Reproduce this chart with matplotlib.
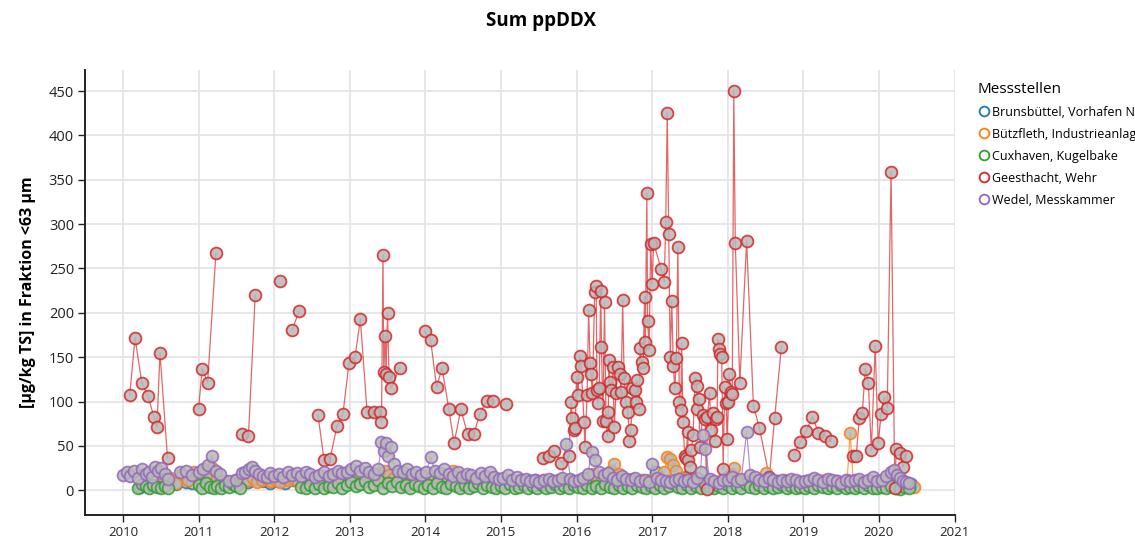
import numpy as np
import matplotlib
matplotlib.use("Agg")
import matplotlib.pyplot as plt
from matplotlib.lines import Line2D

plt.rcParams["font.family"] = ["Open Sans", "DejaVu Sans"]

# Geesthacht, Wehr (None = gap in the sampling, breaks the line)
geest_t = [2010.09, 2010.16, 2010.25, 2010.33, 2010.41, 2010.45, 2010.49, 2010.59, None,
           2011.00, 2011.05, 2011.12, 2011.23, None,
           2011.57, 2011.66, 2011.75, None,
           2012.08, None,
           2012.24, 2012.33, None,
           2012.58, 2012.66, 2012.74, 2012.83, 2012.91, 2012.99, 2013.07, 2013.14, 2013.23, 2013.32,
           2013.40, 2013.42, 2013.44, 2013.45, 2013.47, 2013.48, 2013.50, 2013.52, 2013.55, 2013.66, None,
           2013.99, 2014.07, 2014.15, 2014.22, 2014.31, 2014.38, 2014.47, 2014.56, 2014.64, 2014.72,
           2014.81, 2014.89, None,
           2015.07, None,
           2015.55, 2015.63, 2015.70, 2015.80, 2015.90, 2015.93, 2015.94, 2015.96, 2015.98, 2016.00,
           2016.02, 2016.04, 2016.06, 2016.10, 2016.11, 2016.14, 2016.16, 2016.18, 2016.19, 2016.21,
           2016.24, 2016.26, 2016.27, 2016.28, 2016.30, 2016.32, 2016.33, 2016.35, 2016.37, 2016.39,
           2016.41, 2016.42, 2016.43, 2016.44, 2016.46, 2016.48, 2016.50, 2016.52, 2016.55, 2016.57,
           2016.59, 2016.61, 2016.63, 2016.65, 2016.68, 2016.70, 2016.72, 2016.74, 2016.77, 2016.79,
           2016.80, 2016.83, 2016.84, 2016.86, 2016.88, 2016.90, 2016.91, 2016.93, 2016.94, 2016.96,
           2016.98, 2017.00, 2017.02, 2017.12, 2017.16, 2017.18, 2017.20, 2017.22, 2017.24, 2017.26,
           2017.28, 2017.30, 2017.32, 2017.34, 2017.36, 2017.38, 2017.39, 2017.41, 2017.43, 2017.45,
           2017.47, 2017.48, 2017.50, 2017.52, 2017.54, 2017.57, 2017.59, 2017.60, 2017.62, 2017.63,
           2017.67, 2017.70, 2017.72, 2017.73, 2017.76, 2017.78, 2017.81, 2017.83, 2017.84, 2017.86,
           2017.87, 2017.89, 2017.90, 2017.92, 2017.94, 2017.96, 2017.98, 2017.99, 2018.01, 2018.02,
           2018.04, 2018.06, 2018.08, 2018.10, 2018.16, 2018.25, 2018.34, 2018.42, 2018.55, 2018.62,
           2018.71, None,
           2018.87, 2018.96, 2019.04, 2019.12, 2019.20, 2019.29, 2019.37, None,
           2019.66, 2019.70, 2019.74, 2019.78, 2019.82, 2019.86, 2019.90, 2019.95, 2019.99, 2020.03,
           2020.07, 2020.11, 2020.16, 2020.21, 2020.23, 2020.28, 2020.32, 2020.36]
geest_v = [107, 172, 121, 106, 83, 71, 155, 36, None,
           92, 137, 121, 267, None,
           63, 61, 220, None,
           236, None,
           181, 202, None,
           85, 34, 35, 72, 86, 143, 150, 193, 88, 88,
           88, 77, 265, 133, 174, 131, 200, 128, 115, 138, None,
           179, 169, 116, 138, 92, 53, 91, 63, 63, 86,
           101, 101, None,
           97, None,
           36, 38, 44, 31, 38, 100, 81, 68, 70, 128,
           107, 151, 140, 77, 49, 107, 203, 143, 131, 110,
           224, 230, 113, 98, 115, 225, 162, 78, 212, 78,
           61, 88, 147, 122, 113, 139, 71, 110, 139, 131,
           111, 214, 126, 100, 88, 56, 68, 115, 113, 100,
           124, 92, 160, 144, 138, 218, 167, 335, 191, 158,
           278, 233, 279, 249, 235, 302, 425, 289, 150, 213,
           140, 115, 149, 274, 100, 90, 166, 77, 38, 36,
           66, 34, 26, 45, 62, 127, 118, 92, 103, 49,
           85, 80, 1, 82, 110, 68, 87, 56, 80, 83,
           170, 159, 154, 150, 24, 116, 98, 58, 100, 131,
           111, 109, 450, 279, 121, 281, 95, 70, 15, 81,
           162, None,
           40, 54, 67, 83, 65, 61, 55, None,
           39, 39, 81, 87, 137, 121, 45, 163, 53, 86,
           105, 93, 359, 2, 46, 42, 26, 38]

# Wedel, Messkammer
wedel_t = [2010.00, 2010.05, 2010.10, 2010.15, 2010.20, 2010.25, 2010.30, 2010.34, 2010.38, 2010.42,
           2010.46, 2010.50, 2010.55, 2010.60, 2010.75, 2010.83, 2010.92,
           2011.00, 2011.06, 2011.12, 2011.18, 2011.23, 2011.29, 2011.40, 2011.50, 2011.58, 2011.62,
           2011.67, 2011.71, 2011.75, 2011.80, 2011.85, 2011.90, 2011.95,
           2012.00, 2012.06, 2012.12, 2012.18, 2012.24, 2012.30, 2012.36, 2012.42, 2012.48, 2012.54,
           2012.60, 2012.66, 2012.72, 2012.78, 2012.84, 2012.90, 2012.96,
           2013.02, 2013.08, 2013.14, 2013.20, 2013.26, 2013.32, 2013.38, 2013.42, 2013.45, 2013.48,
           2013.51, 2013.54, 2013.58, 2013.64, 2013.70, 2013.76, 2013.82, 2013.88, 2013.94,
           2014.01, 2014.07, 2014.13, 2014.19, 2014.25, 2014.31, 2014.37, 2014.43, 2014.49, 2014.55,
           2014.61, 2014.67, 2014.73, 2014.79, 2014.85, 2014.91, 2014.97,
           2015.03, 2015.09, 2015.15, 2015.21, 2015.27, 2015.33, 2015.39, 2015.45, 2015.51, 2015.57,
           2015.63, 2015.69, 2015.75, 2015.81, 2015.86, 2015.92, 2015.97,
           2016.03, 2016.09, 2016.15, 2016.20, 2016.24, 2016.30, 2016.36, 2016.42, 2016.48, 2016.54,
           2016.60, 2016.66, 2016.72, 2016.78, 2016.84, 2016.90, 2016.96,
           2017.00, 2017.06, 2017.12, 2017.18, 2017.24, 2017.30, 2017.36, 2017.42, 2017.48, 2017.54,
           2017.60, 2017.64, 2017.67, 2017.70, 2017.76, 2017.82, 2017.88, 2017.94,
           2018.00, 2018.06, 2018.12, 2018.18, 2018.25, 2018.30, 2018.36, 2018.42, 2018.48, 2018.54,
           2018.60, 2018.66, 2018.72, 2018.78, 2018.84, 2018.90, 2018.96,
           2019.02, 2019.08, 2019.14, 2019.20, 2019.26, 2019.32, 2019.38, 2019.44, 2019.50, 2019.56,
           2019.62, 2019.68, 2019.74, 2019.80, 2019.86, 2019.92, 2019.98,
           2020.04, 2020.10, 2020.16, 2020.20, 2020.24, 2020.28, 2020.32, 2020.36, 2020.40]
wedel_v = [17, 21, 16, 22, 14, 24, 18, 20, 15, 26,
           22, 25, 18, 13, 20, 22, 17,
           21, 24, 28, 39, 22, 18, 10, 12, 19, 21,
           24, 26, 22, 18, 16, 15, 19,
           16, 18, 15, 20, 17, 19, 16, 21, 18, 15,
           17, 20, 16, 18, 22, 19, 21,
           24, 27, 22, 25, 20, 18, 24, 54, 44, 53,
           38, 49, 30, 22, 20, 24, 18, 21, 17,
           20, 37, 22, 19, 24, 18, 16, 20, 15, 18,
           17, 14, 19, 16, 20, 15, 13,
           14, 17, 12, 15, 11, 13, 10, 12, 9, 11,
           13, 10, 12, 14, 52, 13, 10,
           11, 14, 18, 43, 34, 20, 17, 19, 14, 12,
           16, 13, 11, 14, 10, 12, 9,
           30, 14, 12, 10, 9, 11, 13, 10, 12, 9,
           14, 20, 62, 47, 13, 10, 8, 11,
           12, 15, 10, 13, 66, 17, 15, 12, 10, 14,
           11, 9, 12, 10, 13, 11, 9,
           10, 12, 14, 11, 9, 13, 12, 10, 8, 12,
           10, 11, 13, 9, 12, 15, 10,
           12, 16, 20, 23, 17, 14, 10, 9, 8]

# Cuxhaven, Kugelbake
cux_t = [2010.20, 2010.25, 2010.30, 2010.35, 2010.40, 2010.45, 2010.50, 2010.55, 2010.60, None,
         2011.00, 2011.05, 2011.10, 2011.15, 2011.20, 2011.25, 2011.30, 2011.35, 2011.40, 2011.45,
         2011.50, 2011.55, None,
         2012.36, 2012.42, 2012.48, 2012.54, 2012.60, 2012.66, 2012.72, 2012.78, 2012.84, 2012.90,
         2012.96,
         2013.02, 2013.08, 2013.14, 2013.20, 2013.26, 2013.32, 2013.38, 2013.44, 2013.50, 2013.56,
         2013.62, 2013.68, 2013.74, 2013.80, 2013.86, 2013.92, 2013.98,
         2014.04, 2014.10, 2014.16, 2014.22, 2014.28, 2014.34, 2014.40, 2014.46, 2014.52, 2014.58,
         2014.64, 2014.70, 2014.76, 2014.82, 2014.88, 2014.94,
         2015.00, 2015.06, 2015.12, 2015.18, 2015.24, 2015.30, 2015.36, 2015.42, 2015.48, 2015.54,
         2015.60, 2015.66, 2015.72, 2015.78, 2015.84, 2015.90, 2015.96,
         2016.02, 2016.08, 2016.14, 2016.20, 2016.26, 2016.32, 2016.38, 2016.44, 2016.50, 2016.56,
         2016.62, 2016.68, 2016.74, 2016.80, 2016.86, 2016.92, 2016.98,
         2017.04, 2017.10, 2017.16, 2017.22, 2017.28, 2017.34, 2017.40, 2017.46, 2017.52, 2017.58,
         2017.64, 2017.70, 2017.76, 2017.82, 2017.88, 2017.94,
         2018.00, 2018.06, 2018.12, 2018.18, 2018.24, 2018.30, 2018.36, 2018.42, 2018.48, 2018.54,
         2018.60, 2018.66, 2018.72, 2018.78, 2018.84, 2018.90, 2018.96,
         2019.02, 2019.08, 2019.14, 2019.20, 2019.26, 2019.32, 2019.38, 2019.44, 2019.50, 2019.56,
         2019.62, 2019.68, 2019.74, 2019.80, 2019.86, 2019.92, 2019.98,
         2020.04, 2020.10, 2020.16, 2020.22, 2020.28, 2020.34, 2020.40]
cux_v = [3, 7, 5, 2, 6, 4, 3, 5, 2, None,
         6, 3, 8, 4, 2, 5, 3, 6, 4, 7,
         5, 3, None,
         4, 2, 6, 3, 7, 2, 5, 4, 8, 3,
         6,
         9, 5, 7, 10, 4, 6, 12, 3, 8, 5,
         9, 4, 6, 2, 7, 5, 3,
         6, 3, 8, 4, 2, 7, 5, 3, 6, 2,
         5, 8, 3, 6, 4, 2,
         5, 3, 7, 2, 4, 6, 3, 5, 2, 6,
         3, 4, 7, 2, 5, 3, 6,
         4, 2, 6, 3, 5, 2, 7, 4, 3, 6,
         2, 5, 3, 6, 4, 2, 5,
         3, 6, 2, 5, 8, 4, 3, 6, 2, 5,
         3, 7, 4, 2, 5, 3,
         6, 3, 5, 2, 7, 4, 3, 6, 2, 5,
         3, 4, 6, 2, 5, 3, 4,
         3, 5, 2, 6, 4, 2, 5, 3, 6, 2,
         4, 3, 5, 2, 6, 3, 2,
         4, 2, 5, 3, 1, 4, 2]

# Bützfleth, Industrieanlage
buetz_t = [2010.55, 2010.62, 2010.70, 2010.78, 2010.86, 2010.94,
           2011.00, 2011.06, 2011.12, 2011.18, 2011.24, 2011.30, 2011.36, 2011.42, 2011.48, 2011.54,
           2011.60, 2011.66, 2011.72, 2011.78, 2011.84, 2011.90, 2011.96,
           2012.02, 2012.08, 2012.14, 2012.20, 2012.26, 2012.32, 2012.38, 2012.44, 2012.50, 2012.56,
           2012.62, 2012.68, 2012.74, 2012.80, 2012.86, 2012.92, 2012.98,
           2013.04, 2013.10, 2013.16, 2013.22, 2013.28, 2013.34, 2013.40, 2013.46, 2013.52, 2013.58,
           2013.64, 2013.70, 2013.76, 2013.82, 2013.88, 2013.94,
           2014.00, 2014.06, 2014.12, 2014.18, 2014.24, 2014.30, 2014.36, 2014.42, 2014.48, 2014.54,
           2014.60, 2014.66, 2014.72, 2014.78, 2014.84, 2014.90, 2014.96,
           2015.02, 2015.08, 2015.14, 2015.20, 2015.26, 2015.32, 2015.38, 2015.44, 2015.50, 2015.56,
           2015.62, 2015.68, 2015.74, 2015.80, 2015.86, 2015.92, 2015.98,
           2016.04, 2016.10, 2016.16, 2016.22, 2016.28, 2016.34, 2016.40, 2016.46, 2016.50, 2016.56,
           2016.62, 2016.68, 2016.74, 2016.80, 2016.86, 2016.92, 2016.98,
           2017.04, 2017.10, 2017.16, 2017.20, 2017.24, 2017.28, 2017.32, 2017.38, 2017.44, 2017.50,
           2017.56, 2017.62, 2017.68, 2017.74, 2017.80, 2017.86, 2017.92, 2017.98,
           2018.04, 2018.08, 2018.14, 2018.20, 2018.26, 2018.32, 2018.38, 2018.44, 2018.50, 2018.56,
           2018.62, 2018.68, 2018.74, 2018.80, 2018.86, 2018.92, 2018.98,
           2019.04, 2019.10, 2019.16, 2019.22, 2019.28, 2019.34, 2019.40, 2019.46, 2019.52, 2019.58,
           2019.62, 2019.66, 2019.72, 2019.78, 2019.84, 2019.90, 2019.96,
           2020.02, 2020.08, 2020.14, 2020.20, 2020.26, 2020.32, 2020.38, 2020.47]
buetz_v = [10, 14, 8, 18, 12, 20,
           16, 22, 18, 25, 14, 10, 6, 8, 12, 7,
           10, 12, 14, 9, 11, 13, 10,
           12, 9, 14, 11, 13, 10, 15, 12, 11, 9,
           13, 10, 14, 12, 16, 11, 13,
           15, 12, 18, 14, 16, 13, 19, 22, 17, 14,
           12, 15, 11, 13, 10, 12,
           11, 14, 12, 16, 10, 13, 22, 11, 9, 12,
           10, 13, 11, 8, 10, 12, 9,
           10, 8, 11, 9, 12, 8, 10, 7, 9, 11,
           8, 10, 7, 9, 8, 11, 9,
           10, 12, 15, 18, 14, 12, 16, 22, 30, 18,
           14, 11, 13, 10, 12, 9, 11,
           10, 13, 20, 37, 35, 28, 22, 14, 11, 9,
           12, 8, 10, 7, 9, 6, 11, 14,
           18, 25, 12, 10, 8, 11, 9, 12, 19, 10,
           8, 9, 11, 7, 10, 8, 9,
           8, 10, 7, 9, 11, 8, 10, 7, 9, 12,
           65, 10, 8, 9, 7, 10, 8,
           9, 7, 10, 8, 6, 9, 7, 4]

# Brunsbüttel, Vorhafen Nord
bruns_t = [2010.22, 2010.35, 2010.50, 2010.70, 2010.84, 2010.92,
           2011.05, 2011.15, 2011.25, 2011.35, 2011.45, 2011.55, 2011.65, 2011.75, 2011.85, 2011.95,
           2012.05, 2012.15, 2012.25, 2012.35, 2012.45, 2012.55, 2012.65, 2012.75, 2012.85, 2012.95,
           2013.05, 2013.15, 2013.25, 2013.35, 2013.45, 2013.55, 2013.65, 2013.75, 2013.85, 2013.95,
           2014.05, 2014.15, 2014.25, 2014.35, 2014.45, 2014.55, 2014.65, 2014.75, 2014.85, 2014.95,
           2015.05, 2015.15, 2015.25, 2015.35, 2015.45, 2015.55, 2015.65, 2015.75, 2015.85, 2015.95,
           2016.05, 2016.15, 2016.25, 2016.35, 2016.45, 2016.55, 2016.65, 2016.75, 2016.85, 2016.95,
           2017.05, 2017.15, 2017.25, 2017.35, 2017.45, 2017.55, 2017.65, 2017.75, 2017.85, 2017.95,
           2018.05, 2018.15, 2018.25, 2018.35, 2018.45, 2018.55, 2018.65, 2018.75, 2018.85, 2018.95,
           2019.05, 2019.15, 2019.25, 2019.35, 2019.45, 2019.55, 2019.65, 2019.75, 2019.85, 2019.95,
           2020.05, 2020.15, 2020.25, 2020.35, 2020.42]
bruns_v = [4, 6, 9, 7, 9, 8,
           9, 12, 7, 10, 8, 11, 9, 13, 10, 8,
           10, 8, 12, 9, 11, 7, 10, 12, 9, 11,
           13, 10, 15, 11, 9, 12, 10, 14, 11, 8,
           10, 12, 8, 11, 9, 13, 7, 10, 12, 9,
           8, 10, 7, 9, 11, 8, 6, 9, 10, 7,
           9, 7, 11, 8, 10, 6, 9, 12, 8, 10,
           20, 9, 7, 10, 15, 8, 6, 9, 7, 8,
           8, 10, 7, 9, 6, 8, 10, 7, 9, 6,
           7, 9, 6, 8, 10, 7, 5, 8, 6, 9,
           7, 5, 8, 6, 7]

series = [
    ("Brunsbüttel, Vorhafen Nord", bruns_t, bruns_v, "#1f77b4"),
    ("Bützfleth, Industrieanlage", buetz_t, buetz_v, "#ff7f0e"),
    ("Cuxhaven, Kugelbake", cux_t, cux_v, "#2ca02c"),
    ("Geesthacht, Wehr", geest_t, geest_v, "#d62728"),
    ("Wedel, Messkammer", wedel_t, wedel_v, "#9467bd"),
]

years = list(range(2010, 2022))
yticks = list(range(0, 451, 50))

fig = plt.figure(figsize=(11.35, 5.41), dpi=100)
ax = fig.add_axes([0.075, 0.048, 0.766, 0.823])

for name, t, v, col in series:
    t = np.array(t, dtype=float)
    v = np.array(v, dtype=float)
    ax.plot(t, v, color=col, lw=0.9, alpha=0.7, zorder=2)
    ax.plot(t, v, ls="", marker="o", ms=8.5, mec=col, mew=1.3,
            mfc=(0.72, 0.72, 0.72, 0.55), alpha=0.85, zorder=3)

ax.set_xlim(2009.5, 2021.0)
ax.set_ylim(-28, 474)
ax.set_xticks(years)
ax.set_xticklabels([str(y) for y in years], fontsize=9.5)
ax.set_yticks(yticks)
ax.set_yticklabels([str(y) for y in yticks], fontsize=10.5)
ax.tick_params(direction="out", length=5, width=1, pad=3, colors="#222222")
ax.grid(True, color="#e3e3e3", lw=1.2)
ax.set_axisbelow(True)
for s in ["top", "right"]:
    ax.spines[s].set_visible(False)
for s in ["left", "bottom"]:
    ax.spines[s].set_linewidth(1.4)
    ax.spines[s].set_color("#222222")

ax.set_ylabel("[µg/kg TS] in Fraktion <63 µm", fontsize=11.5, fontweight="bold", labelpad=9)
fig.text(0.477, 0.962, "Sum ppDDX", ha="center", va="center", fontsize=13.5,
         fontweight="bold")

# legend text runs past the right edge, as in the original export
handles = [Line2D([], [], ls="", marker="o", ms=7, mfc="none", mec=c, mew=1.3)
           for _, _, _, c in series]
labels = [n for n, _, _, _ in series]
fig.legend(handles, labels, title="Messstellen", loc="upper left",
           bbox_to_anchor=(0.857, 0.858), frameon=False, fontsize=9,
           title_fontsize=11, alignment="left", handletextpad=0.15,
           handlelength=1.0, labelspacing=0.72, borderaxespad=0)

fig.savefig("out.png", dpi=100)
